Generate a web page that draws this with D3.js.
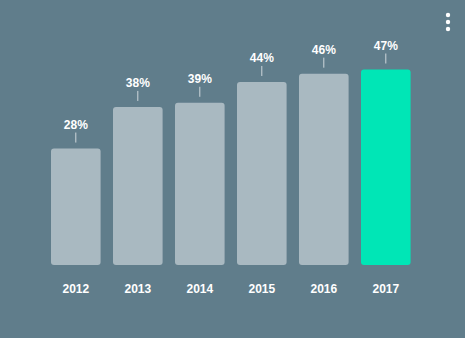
<!DOCTYPE html>
<html><head><meta charset="utf-8">
<script src="https://cdn.jsdelivr.net/npm/d3@7"></script>
<style>html,body{margin:0;padding:0;background:#607d8b;overflow:hidden}</style>
</head><body>
<svg id="c" width="465" height="338"></svg>
<script>
const years = ["2012","2013","2014","2015","2016","2017"];
const values = [28, 38, 39, 44, 46, 47];
const labels = ["28%","38%","39%","44%","46%","47%"];

const svg = d3.select("#c");
svg.append("rect").attr("width",465).attr("height",338).attr("fill","#607d8b");

const x = d3.scaleBand().domain(years).range([44.8, 416.8]).paddingInner(0.2).paddingOuter(0.1);
const y = d3.scaleLinear().domain([0, 47]).range([265, 69.5]);

const g = svg.append("g");
g.selectAll("rect.bar").data(years).join("rect")
  .attr("class","bar")
  .attr("x", d => x(d))
  .attr("y", (d,i) => y(values[i]))
  .attr("width", x.bandwidth())
  .attr("height", (d,i) => y(0) - y(values[i]))
  .attr("rx", 3)
  .attr("fill", (d,i) => i === years.length-1 ? "#00e6b6" : "#a9b9c1");

g.selectAll("line.tick").data(years).join("line")
  .attr("x1", d => x(d) + x.bandwidth()/2)
  .attr("x2", d => x(d) + x.bandwidth()/2)
  .attr("y1", (d,i) => y(values[i]) - 6)
  .attr("y2", (d,i) => y(values[i]) - 16)
  .attr("stroke", "#cfd8dc").attr("stroke-width", 1);

g.selectAll("text.val").data(years).join("text")
  .attr("x", d => x(d) + x.bandwidth()/2)
  .attr("y", (d,i) => y(values[i]) - 20)
  .attr("text-anchor","middle")
  .attr("font-family","Arial, 'Liberation Sans', sans-serif")
  .attr("font-size", 12).attr("font-weight","bold")
  .attr("fill","#ffffff")
  .text((d,i) => labels[i]);

const xAxis = d3.axisBottom(x).tickSize(0).tickPadding(0);
const ax = svg.append("g").attr("transform","translate(0,284)").call(xAxis);
ax.select(".domain").remove();
ax.selectAll("text")
  .attr("font-family","Arial, 'Liberation Sans', sans-serif")
  .attr("font-size", 12).attr("font-weight","bold")
  .attr("fill","#ffffff").attr("dy","0.71em");

const dots = [15, 22, 29];
svg.selectAll("circle.menu").data(dots).join("circle")
  .attr("cx", 448).attr("cy", d => d).attr("r", 2.2).attr("fill","#ffffff");
</script>
</body></html>
